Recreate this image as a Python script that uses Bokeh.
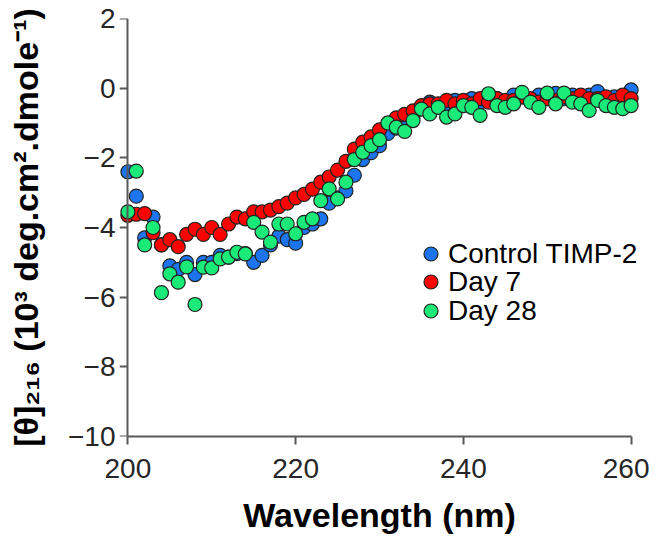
from bokeh.plotting import figure
from bokeh.models import Range1d, FixedTicker, Legend, LegendItem, LinearAxis
from bokeh.embed import file_html
from bokeh.resources import INLINE

wavelength = list(range(200, 261))

control = [-2.40, -3.10, -4.30, -3.70, -4.50, -5.10, -5.20, -5.00, -5.35, -5.00,
           -5.00, -4.80, -4.85, -4.75, -4.75, -5.00, -4.80, -4.50, -4.25, -4.35,
           -4.45, -4.00, -3.90, -3.75, -3.30, -3.15, -2.95, -2.50, -2.05, -1.85,
           -1.65, -1.30, -1.15, -0.95, -0.80, -0.55, -0.40, -0.50, -0.45, -0.35,
           -0.40, -0.30, -0.40, -0.20, -0.30, -0.40, -0.20, -0.25, -0.35, -0.20,
           -0.30, -0.15, -0.30, -0.20, -0.35, -0.20, -0.10, -0.30, -0.25, -0.35,
           -0.05]

day7 = [-3.65, -3.62, -3.60, -4.15, -4.50, -4.35, -4.55, -4.20, -4.05, -4.20,
        -4.00, -4.20, -3.90, -3.70, -3.75, -3.55, -3.55, -3.50, -3.40, -3.30,
        -3.15, -3.05, -2.90, -2.70, -2.55, -2.35, -2.10, -1.75, -1.55, -1.40,
        -1.20, -1.00, -0.85, -0.75, -0.65, -0.50, -0.45, -0.45, -0.35, -0.45,
        -0.35, -0.45, -0.30, -0.40, -0.30, -0.35, -0.35, -0.25, -0.30, -0.40,
        -0.30, -0.35, -0.25, -0.30, -0.20, -0.30, -0.30, -0.25, -0.35, -0.20,
        -0.30]

day28 = [-3.55, -2.38, -4.50, -4.00, -5.87, -5.33, -5.57, -5.13, -6.21, -5.14,
         -5.16, -4.90, -4.85, -4.71, -4.76, -3.85, -4.13, -4.42, -3.90, -3.90,
         -4.18, -3.85, -3.75, -3.23, -2.89, -3.18, -2.70, -2.05, -1.84, -1.65,
         -1.48, -1.00, -1.12, -1.24, -0.93, -0.60, -0.74, -0.55, -0.83, -0.74,
         -0.50, -0.55, -0.78, -0.16, -0.50, -0.55, -0.45, -0.12, -0.40, -0.55,
         -0.14, -0.45, -0.14, -0.40, -0.45, -0.64, -0.35, -0.50, -0.55, -0.59,
         -0.50]

series_names = ["Control TIMP-2", "Day 7", "Day 28"]
series_colors = ["#1C75EE", "#FF0000", "#19EA78"]
x_ticks = [200, 220, 240, 260]
y_ticks = [-10, -8, -6, -4, -2, 0, 2]

FONT = "Liberation Sans"
AXIS_COLOR = "#595959"

p = figure(
    frame_width=520, frame_height=418,
    min_border_left=119, min_border_right=10, min_border_top=18, min_border_bottom=100,
    x_range=Range1d(199, 261), y_range=Range1d(-10, 2),
    y_axis_location=None,
    output_backend="svg", toolbar_location=None,
)
p.outline_line_color = None
p.grid.visible = False
p.background_fill_color = "white"
p.border_fill_color = "white"

renderers = []
for vals, color in zip([control, day7, day28], series_colors):
    r = p.scatter(wavelength, vals, size=14, fill_color=color,
                  line_color="#222222", line_width=1.2)
    renderers.append(r)

# x axis
xa = p.xaxis[0]
xa.ticker = FixedTicker(ticks=x_ticks)
xa.bounds = (200, 260)
xa.axis_line_color = AXIS_COLOR
xa.axis_line_width = 2
xa.major_tick_line_color = AXIS_COLOR
xa.major_tick_line_width = 2
xa.major_tick_out = 8
xa.major_tick_in = 0
xa.minor_tick_line_color = None
xa.major_label_text_font = FONT
xa.major_label_text_font_size = "28px"
xa.major_label_text_color = "#262626"
xa.major_label_standoff = 14
xa.axis_label = "Wavelength (nm)"
xa.axis_label_text_font = FONT
xa.axis_label_text_font_style = "bold"
xa.axis_label_text_font_size = "34px"
xa.axis_label_text_color = "#000000"
xa.axis_label_standoff = 15

# y axis: labels and title (at frame edge, no line)
ya = LinearAxis(
    ticker=FixedTicker(ticks=y_ticks),
    axis_line_color=None, major_tick_line_color=None, minor_tick_line_color=None,
    major_tick_out=0, major_tick_in=0,
    major_label_text_font=FONT, major_label_text_font_size="28px",
    major_label_text_color="#262626", major_label_standoff=4,
    axis_label="[θ]₂₁₆ (10³ deg.cm².dmole⁻¹)",
    axis_label_text_font=FONT, axis_label_text_font_style="bold",
    axis_label_text_font_size="34px", axis_label_text_color="#000000",
    axis_label_standoff=20,
)
p.add_layout(ya, "left")

# y axis line and ticks at x = 200
yl = LinearAxis(
    ticker=FixedTicker(ticks=y_ticks), fixed_location=200,
    axis_line_color=AXIS_COLOR, axis_line_width=2,
    major_tick_line_color=AXIS_COLOR, major_tick_line_width=2,
    major_tick_out=0, major_tick_in=8, minor_tick_line_color=None,
    major_label_overrides={t: "" for t in y_ticks},
    major_label_standoff=0,
)
p.add_layout(yl, "right")

# legend: one entry per Legend so rows can sit closer than the glyph box
legend_x = 294
legend_rows_y = [165, 137, 108]
for name, r, ly in zip(series_names, renderers, legend_rows_y):
    lg = Legend(
        items=[LegendItem(label=name, renderers=[r])],
        location=(legend_x, ly),
        glyph_width=35, glyph_height=35, spacing=0, padding=0, margin=0,
        label_standoff=-3,
        label_text_font=FONT, label_text_font_size="28px", label_text_color="#000000",
        label_text_line_height=1.0,
        border_line_color=None, background_fill_alpha=0,
    )
    p.add_layout(lg)

open("out.html", "w").write(file_html(p, INLINE))
